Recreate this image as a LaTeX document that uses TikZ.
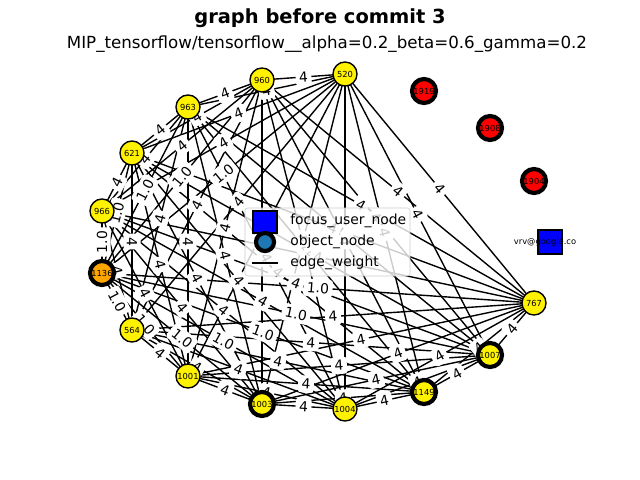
\documentclass[tikz,border=0pt]{standalone}
\usepackage{fontspec}
\setmainfont{DejaVu Sans}
\usetikzlibrary{backgrounds}

\definecolor{objblue}{HTML}{1F77B4}
\definecolor{objorange}{HTML}{FFA500}
\definecolor{framegrey}{gray}{0.8}
\pgfdeclarelayer{fore}
\pgfsetlayers{background,main,fore}

\begin{document}
\begin{tikzpicture}[x=0.72pt,y=-0.72pt]
  \tikzset{
    obj/.style={circle, draw=black, line width=1pt, fill=yellow, minimum size=17.3pt,
      inner sep=0pt, outer sep=0pt, font=\fontsize{6}{6}\selectfont},
    bold obj/.style={obj, line width=3pt},
    user/.style={rectangle, draw=black, line width=1pt, fill=blue, minimum size=17.3pt,
      inner sep=0pt},
    edge/.style={black, line width=1pt},
    wlabel/.style={fill=white, rounded corners=2pt, inner sep=2.5pt, sloped,
      font=\fontsize{10}{10}\selectfont},
    legtext/.style={anchor=west, inner sep=0pt, font=\fontsize{10}{12}\selectfont}
  }
  \useasboundingbox (0,0) rectangle (640,480);

  % titles
  \node (title) at (320,18) {\fontsize{14}{16}\selectfont\bfseries graph before commit 3};
  \node (subtitle) at (327,44) {\fontsize{12}{14}\selectfont MIP\_tensorflow/tensorflow\_\_alpha=0.2\_beta=0.6\_gamma=0.2};

  % nodes
  \begin{pgfonlayer}{fore}
  \node [bold obj, fill=objorange] (n1136) at (102,273) {1136};
  \node [obj] (n960) at (262,80) {960};
  \node [obj] (n520) at (345,74) {520};
  \node [obj] (n963) at (188,107) {963};
  \node [obj] (n621) at (132,153) {621};
  \node [obj] (n966) at (102,211) {966};
  \node [obj] (n564) at (132,330) {564};
  \node [obj] (n1001) at (188,376) {1001};
  \node [bold obj] (n1003) at (262,404) {1003};
  \node [obj] (n1004) at (345,409) {1004};
  \node [bold obj] (n1149) at (424,392) {1149};
  \node [bold obj] (n1007) at (490,355) {1007};
  \node [obj] (n767) at (534,303) {767};
  \node [bold obj, fill=red] (n1919) at (424,91) {1919};
  \node [bold obj, fill=red] (n1908) at (490,128) {1908};
  \node [bold obj, fill=red] (n1904) at (534,181) {1904};
  \node [user] (vrv) at (550,242) {};
  \node [font=\fontsize{6}{6}\selectfont, inner sep=0pt] (vrvtext) at (545,242) {vrv@google.co};
  \end{pgfonlayer}

  % edges, every pair of the clique
  \def\cliquelist{n1136,n960,n520,n963,n621,n966,n564,n1001,n1003,n1004,n1149,n1007,n767}
  \begin{scope}[on background layer]
    \foreach \a [count=\i] in \cliquelist {
      \foreach \b [count=\j] in \cliquelist {
        \ifnum\j>\i \draw [edge] (\a) -- (\b); \fi
      }
    }
  \end{scope}
  \foreach \a [count=\i] in \cliquelist {
    \foreach \b [count=\j] in \cliquelist {
      \ifnum\j>\i
        \path (\a) -- (\b) node [wlabel, midway] {\ifnum\i=1 1.0\else 4\fi};
      \fi
    }
  }

  % legend
  \begin{pgfonlayer}{fore}
  \node [draw=framegrey, fill=white, fill opacity=0.8, rounded corners=2pt,
    minimum width=165*0.72pt, minimum height=68*0.72pt] (legend) at (327.5,242) {};
  \node [user, minimum width=17.3pt, minimum height=15.8pt] (legsquare) at (265,222) {};
  \node [bold obj, fill=objblue, minimum size=13pt] (legcircle) at (265,242) {};
  \coordinate (legl) at (252,263);
  \coordinate (legr) at (278,263);
  \draw [edge] (legl) -- (legr);
  \node [legtext] (legtxt1) at (290,221) {focus\_user\_node};
  \node [legtext] (legtxt2) at (290,242) {object\_node};
  \node [legtext] (legtxt3) at (290,263) {edge\_weight};
  \end{pgfonlayer}
\end{tikzpicture}
\end{document}
